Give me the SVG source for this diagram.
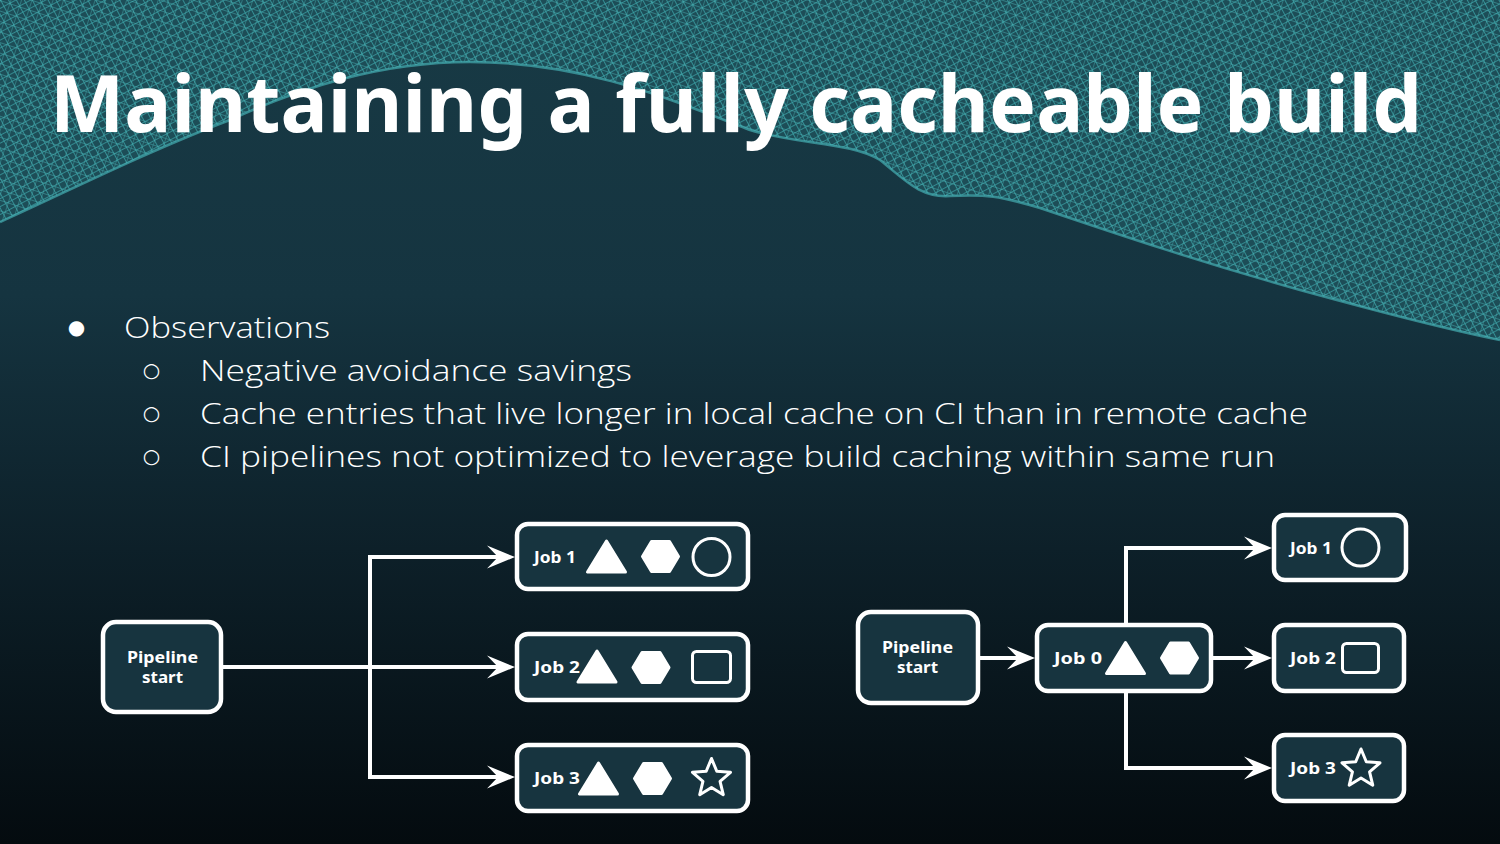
<svg xmlns="http://www.w3.org/2000/svg" width="1500" height="844" viewBox="0 0 1500 844">
<defs>
<style>
.node{fill:#17343f;stroke:#ffffff;stroke-width:4.5}
.lbl{font-family:"Noto Sans","Open Sans",sans-serif;font-weight:700;font-size:16px;fill:#ffffff}
.conn{fill:none;stroke:#ffffff;stroke-width:4;stroke-linejoin:miter}
.solid{fill:#ffffff;stroke:#ffffff;stroke-width:3;stroke-linejoin:round}
.outline{fill:none;stroke:#ffffff;stroke-width:3;stroke-linejoin:round}
.body{font-family:"Open Sans","Liberation Sans",sans-serif;font-weight:300;font-size:30px;fill:#ffffff}
.bul{font-family:"DejaVu Sans",sans-serif;fill:#ffffff}
</style>
<linearGradient id="bg" x1="0" y1="0" x2="0" y2="1">
<stop offset="0" stop-color="#183a45"/>
<stop offset="0.35" stop-color="#153440"/>
<stop offset="0.65" stop-color="#0d2029"/>
<stop offset="1" stop-color="#040b0f"/>
</linearGradient>
<pattern id="meshA" width="7" height="7" patternUnits="userSpaceOnUse" patternTransform="rotate(-28)">
<path d="M0 0H7M0 0V7" stroke="#3ea8ab" stroke-width="1.6"/>
</pattern>
<pattern id="meshB" width="10" height="10" patternUnits="userSpaceOnUse" patternTransform="rotate(18)">
<path d="M0 0H10M0 0V10" stroke="#4cb8ba" stroke-width="1.3"/>
</pattern>
<marker id="arr" markerUnits="userSpaceOnUse" markerWidth="40" markerHeight="30" viewBox="-20 -15 40 30" refX="0" refY="0" orient="auto">
<path d="M10,0 L-18,-11.5 L-7,0 L-18,11.5 Z" fill="#ffffff"/>
</marker>
<polygon id="tri" points="0,-15.5 -19,15.5 19,15.5"/>
<polygon id="hex" points="-18,0 -9,-15 9,-15 18,0 9,15 -9,15"/>
<path id="star" d="M0,-20 L5.29,-7.28 L19.02,-6.18 L8.56,2.78 L11.76,16.18 L0,9 L-11.76,16.18 L-8.56,2.78 L-19.02,-6.18 L-5.29,-7.28 Z"/>
<path id="waveShape" d="M0,222 C60,195 150,150 230,120 C300,88 380,62 470,62 C580,62 660,95 750,130 C800,145 850,142 880,160 C905,180 920,198 950,196 C985,194 1000,196 1040,208 C1120,235 1200,262 1300,290 C1380,312 1440,328 1500,340 V0 H0 Z"/>
</defs>

<rect width="1500" height="844" fill="url(#bg)"/>

<g id="mesh">
<use href="#waveShape" fill="#1d4d57"/>
<use href="#waveShape" fill="url(#meshA)" opacity="0.9"/>
<use href="#waveShape" fill="url(#meshB)" opacity="0.6"/>
<path d="M0,222 C60,195 150,150 230,120 C300,88 380,62 470,62 C580,62 660,95 750,130 C800,145 850,142 880,160 C905,180 920,198 950,196 C985,194 1000,196 1040,208 C1120,235 1200,262 1300,290 C1380,312 1440,328 1500,340" fill="none" stroke="#45adb0" stroke-width="2.5" opacity="0.7"/>
</g>

<text x="50" y="132" font-family="'Noto Sans','Open Sans',sans-serif" font-weight="700" font-size="78" fill="#ffffff" textLength="1372" lengthAdjust="spacingAndGlyphs">Maintaining a fully cacheable build</text>

<g id="bullets">
<text class="bul" x="76.5" y="334" font-size="20" text-anchor="middle">●</text>
<text class="body" x="124" y="338" textLength="206" lengthAdjust="spacingAndGlyphs">Observations</text>
<text class="bul" x="151.5" y="377" font-size="20" text-anchor="middle">○</text>
<text class="body" x="200" y="381" textLength="432" lengthAdjust="spacingAndGlyphs">Negative avoidance savings</text>
<text class="bul" x="151.5" y="420" font-size="20" text-anchor="middle">○</text>
<text class="body" x="200" y="424" textLength="1108" lengthAdjust="spacingAndGlyphs">Cache entries that live longer in local cache on CI than in remote cache</text>
<text class="bul" x="151.5" y="463" font-size="20" text-anchor="middle">○</text>
<text class="body" x="200" y="467" textLength="1075" lengthAdjust="spacingAndGlyphs">CI pipelines not optimized to leverage build caching within same run</text>
</g>

<g id="connectors">
<path class="conn" d="M223,667 H505" marker-end="url(#arr)"/>
<path class="conn" d="M370,667 V557 H505" marker-end="url(#arr)"/>
<path class="conn" d="M370,667 V777 H505" marker-end="url(#arr)"/>
<path class="conn" d="M980,658 H1025" marker-end="url(#arr)"/>
<path class="conn" d="M1213,658 H1262" marker-end="url(#arr)"/>
<path class="conn" d="M1126,623 V548 H1262" marker-end="url(#arr)"/>
<path class="conn" d="M1126,693 V768 H1262" marker-end="url(#arr)"/>
</g>

<g id="left-pipeline-start">
<rect class="node" x="103" y="622" width="118" height="90" rx="13"/>
<text class="lbl" x="162.5" y="663" text-anchor="middle" textLength="71" lengthAdjust="spacingAndGlyphs">Pipeline</text>
<text class="lbl" x="162.5" y="683" text-anchor="middle" textLength="41" lengthAdjust="spacingAndGlyphs">start</text>
</g>

<g id="left-job1">
<rect class="node" x="517" y="524" width="231" height="65" rx="11"/>
<text class="lbl" x="534" y="563" textLength="42" lengthAdjust="spacingAndGlyphs">Job 1</text>
<use href="#tri" class="solid" x="606.5" y="556.5"/>
<use href="#hex" class="solid" x="660.5" y="556.5"/>
<circle class="outline" cx="711.5" cy="557" r="18.5"/>
</g>

<g id="left-job2">
<rect class="node" x="517" y="634" width="231" height="66" rx="11"/>
<text class="lbl" x="534" y="673" textLength="46" lengthAdjust="spacingAndGlyphs">Job 2</text>
<use href="#tri" class="solid" x="597" y="666.5"/>
<use href="#hex" class="solid" x="651" y="667.5"/>
<rect class="outline" x="692.5" y="651.5" width="38" height="31" rx="4"/>
</g>

<g id="left-job3">
<rect class="node" x="517" y="745" width="231" height="66" rx="11"/>
<text class="lbl" x="534" y="784" textLength="46" lengthAdjust="spacingAndGlyphs">Job 3</text>
<use href="#tri" class="solid" x="598.5" y="778.5"/>
<use href="#hex" class="solid" x="652.5" y="778.5"/>
<use href="#star" class="outline" x="711.5" y="778.5"/>
</g>

<g id="right-pipeline-start">
<rect class="node" x="858" y="612" width="120" height="91" rx="13"/>
<text class="lbl" x="917.5" y="653" text-anchor="middle" textLength="71" lengthAdjust="spacingAndGlyphs">Pipeline</text>
<text class="lbl" x="917.5" y="673" text-anchor="middle" textLength="41" lengthAdjust="spacingAndGlyphs">start</text>
</g>

<g id="right-job0">
<rect class="node" x="1037" y="625" width="174" height="66" rx="11"/>
<text class="lbl" x="1054" y="664" textLength="48" lengthAdjust="spacingAndGlyphs">Job 0</text>
<use href="#tri" class="solid" x="1125.5" y="658"/>
<use href="#hex" class="solid" x="1179.5" y="658"/>
</g>

<g id="right-job1">
<rect class="node" x="1274" y="515" width="132" height="65" rx="11"/>
<text class="lbl" x="1290" y="554" textLength="42" lengthAdjust="spacingAndGlyphs">Job 1</text>
<circle class="outline" cx="1360.5" cy="547.5" r="18.5"/>
</g>

<g id="right-job2">
<rect class="node" x="1274" y="625" width="130" height="66" rx="11"/>
<text class="lbl" x="1290" y="664" textLength="46" lengthAdjust="spacingAndGlyphs">Job 2</text>
<rect class="outline" x="1342.5" y="643.5" width="36" height="29" rx="4"/>
</g>

<g id="right-job3">
<rect class="node" x="1274" y="735" width="130" height="66" rx="11"/>
<text class="lbl" x="1290" y="774" textLength="46" lengthAdjust="spacingAndGlyphs">Job 3</text>
<use href="#star" class="outline" x="1361" y="769"/>
</g>
</svg>
